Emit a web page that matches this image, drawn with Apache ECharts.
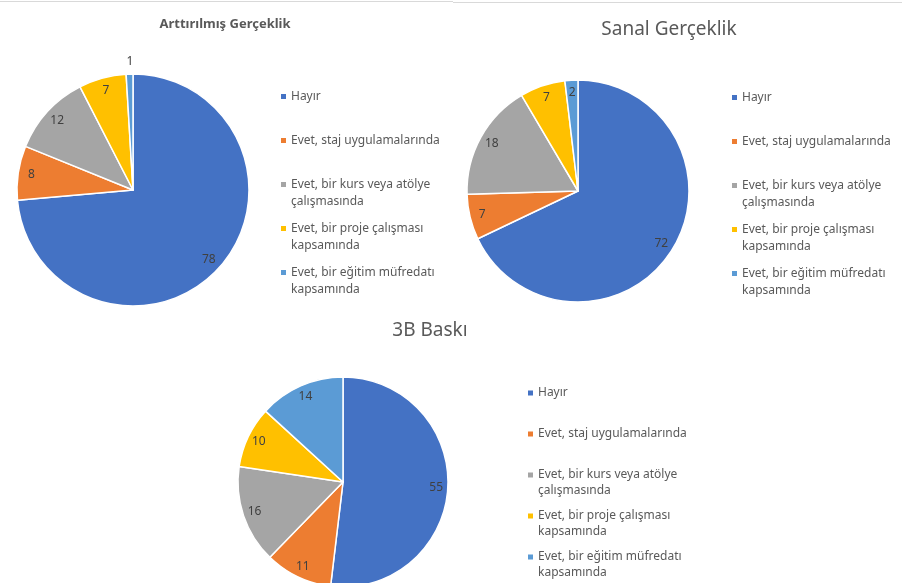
<!DOCTYPE html>
<html>
<head>
<meta charset="utf-8">
<title>Arttırılmış Gerçeklik / Sanal Gerçeklik / 3B Baskı</title>
<script src="https://cdn.jsdelivr.net/npm/echarts@6/dist/echarts.min.js"></script>
<style>
  html, body { margin: 0; padding: 0; background: #fff; }
  #main { width: 902px; height: 583px; }
</style>
</head>
<body>
<div id="main"></div>
<script type="text/javascript">
// legend names, broken in lines as in the picture
var categoryLines = [
  ['Hayır'],
  ['Evet, staj uygulamalarında'],
  ['Evet, bir kurs veya atölye', 'çalışmasında'],
  ['Evet, bir proje çalışması', 'kapsamında'],
  ['Evet, bir eğitim müfredatı', 'kapsamında']
];
var categories = categoryLines.map(function (l) { return l.join(' '); });

var arValues = [78, 8, 12, 7, 1];   // Arttırılmış Gerçeklik
var vrValues = [72, 7, 18, 7, 2];   // Sanal Gerçeklik
var pValues = [55, 11, 16, 10, 14]; // 3B Baskı

var colors = ['#4472C4', '#ED7D31', '#A5A5A5', '#FFC000', '#5B9BD5'];
var font = 'Noto Sans';

function toData(values) {
  return values.map(function (v, i) { return { name: categories[i], value: v }; });
}

function legendText(name) {
  var lines = categoryLines[categories.indexOf(name)].slice();
  if (lines.length < 2) lines.push(' ');
  return lines.join('\n');
}

// pie slices
function pieSeries(values, cx, cy, r) {
  return {
    type: 'pie',
    center: [cx, cy],
    radius: r,
    startAngle: 90,
    clockwise: true,
    label: { show: false },
    labelLine: { show: false },
    itemStyle: { borderColor: '#fff', borderWidth: 1.5 },
    emphasis: { scale: false },
    data: toData(values)
  };
}

// transparent outer ring, only to put the numbers near the rim like Excel
function labelSeries(values, cx, cy, r, layout) {
  return {
    type: 'pie',
    center: [cx, cy],
    radius: [r * 0.72, r],
    startAngle: 90,
    clockwise: true,
    silent: true,
    itemStyle: { color: 'rgba(0,0,0,0)', borderWidth: 0 },
    label: {
      show: true,
      position: 'inside',
      formatter: '{c}',
      color: '#404040',
      fontFamily: font,
      fontSize: 12
    },
    labelLine: { show: false },
    labelLayout: layout,
    emphasis: { disabled: true },
    data: toData(values)
  };
}

function legendBox(left, top, lineH) {
  var h = lineH * 2;
  var c = lineH / 2;
  var icon = 'path://M0 0h0.01v0.01h-0.01z M0 ' + (c - 2.5) + 'h5v5h-5z M0 ' + (h - 0.01) + 'h0.01v0.01h-0.01z';
  return {
    orient: 'vertical',
    left: left,
    top: top,
    padding: 0,
    itemWidth: 5,
    itemHeight: h,
    itemGap: lineH === 17 ? 10 : 9,
    icon: icon,
    selectedMode: false,
    itemStyle: { borderWidth: 0 },
    formatter: legendText,
    textStyle: { color: '#595959', fontFamily: font, fontSize: 12, lineHeight: lineH },
    data: categories
  };
}

var myChart = echarts.init(document.getElementById('main'));

myChart.setOption({
  color: colors,
  animation: false,
  title: [
    {
      text: 'Arttırılmış Gerçeklik', left: 225, top: 18, textAlign: 'center', padding: 0,
      textStyle: { color: '#595959', fontFamily: font, fontSize: 13, fontWeight: 'bold' }
    },
    {
      text: 'Sanal Gerçeklik', left: 669, top: 20, textAlign: 'center', padding: 0,
      textStyle: { color: '#595959', fontFamily: font, fontSize: 19, fontWeight: 'normal' }
    },
    {
      text: '3B Baskı', left: 430, top: 321, textAlign: 'center', padding: 0,
      textStyle: { color: '#595959', fontFamily: font, fontSize: 19, fontWeight: 'normal' }
    }
  ],
  legend: [
    legendBox(281, 88, 17),
    legendBox(732, 89, 17),
    legendBox(528, 385, 16)
  ],
  graphic: [
    { type: 'line', shape: { x1: 0, y1: 1.5, x2: 453, y2: 1.5 }, style: { stroke: '#d9d9d9', lineWidth: 1 } },
    { type: 'line', shape: { x1: 453, y1: 2.5, x2: 902, y2: 2.5 }, style: { stroke: '#d9d9d9', lineWidth: 1 } }
  ],
  series: [
    pieSeries(arValues, 133, 190, 116),
    pieSeries(vrValues, 578, 191, 111),
    pieSeries(pValues, 343, 482, 105),
    labelSeries(arValues, 133, 190, 116, function (params) {
      // the "1" slice is too thin, its label sits above the pie
      if (params.dataIndex === 4) return { dy: -26 };
    }),
    labelSeries(vrValues, 578, 191, 111),
    labelSeries(pValues, 343, 482, 105)
  ]
});
</script>
</body>
</html>
